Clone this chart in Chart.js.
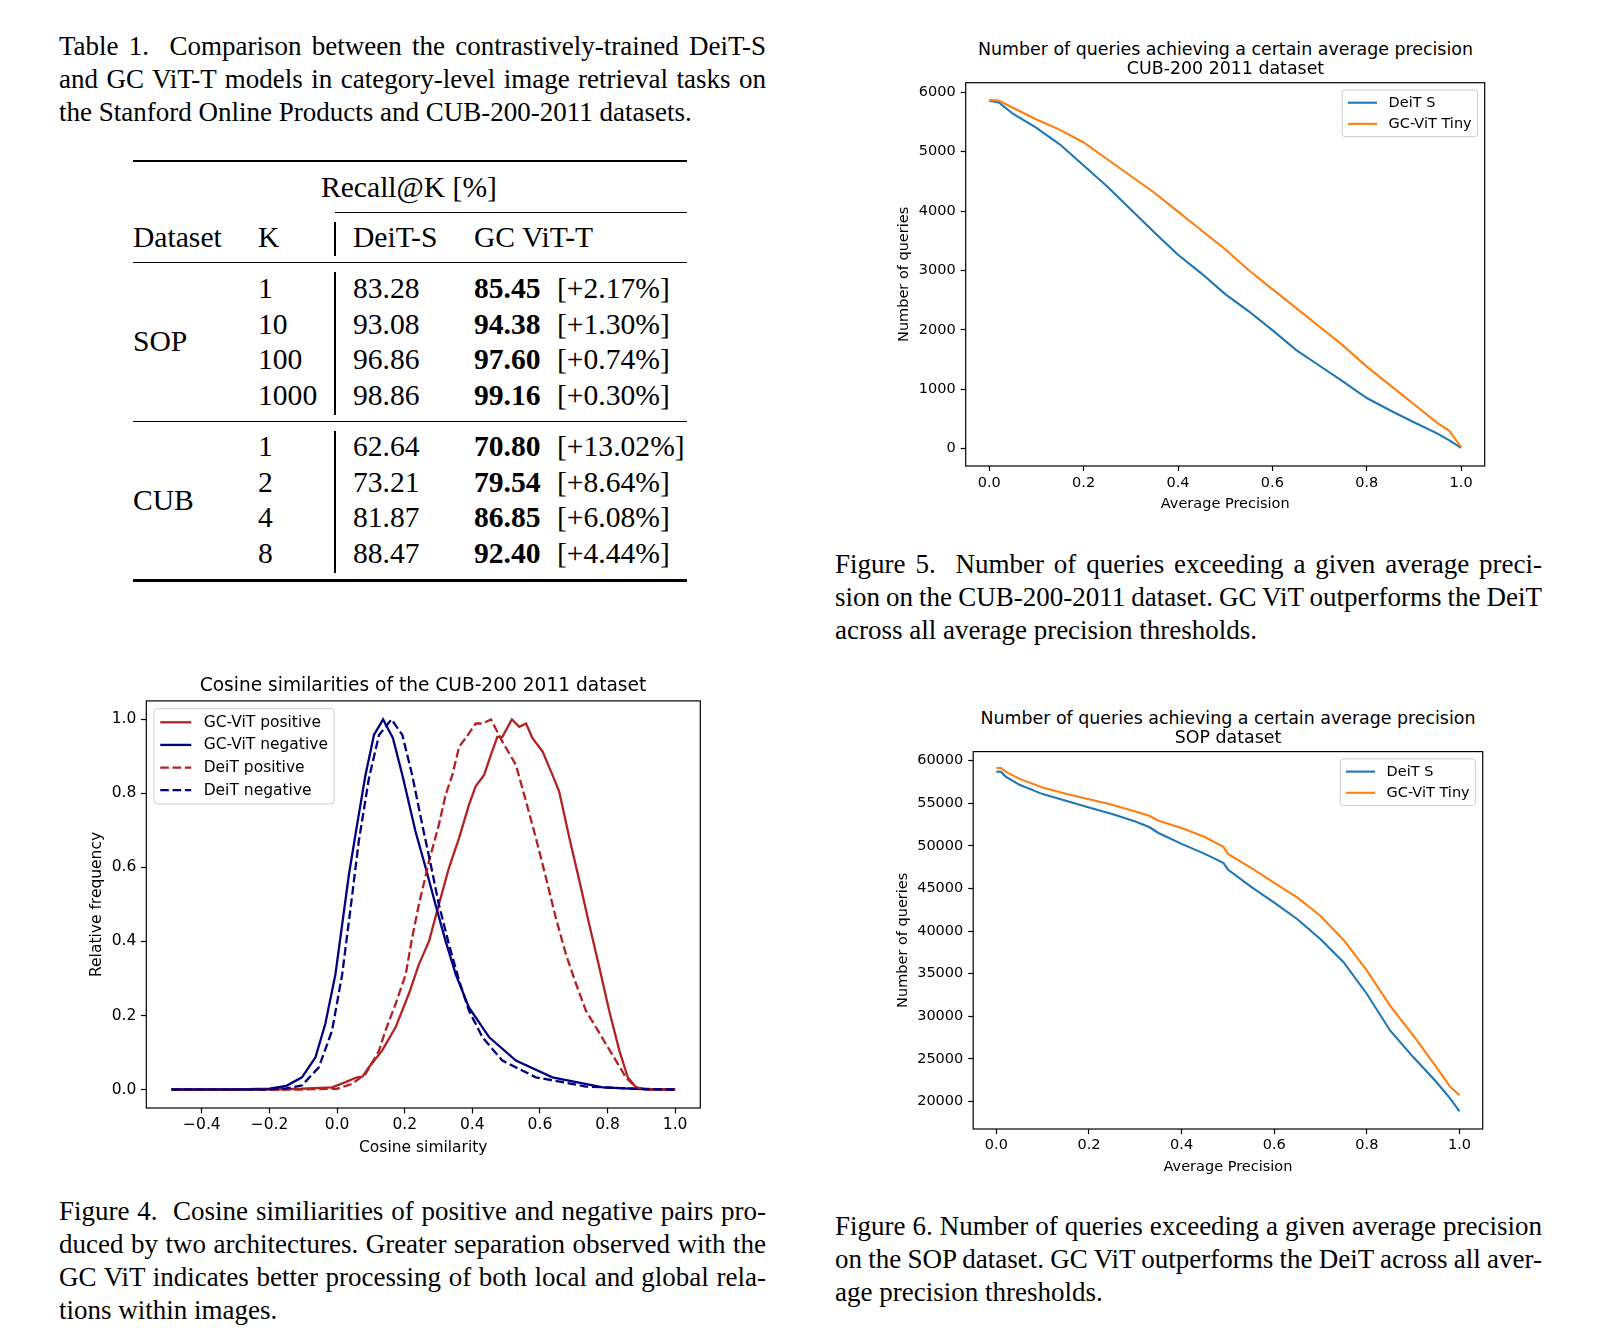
<!DOCTYPE html>
<html>
<head>
<meta charset="utf-8">
<title>DeiT-S vs GC ViT-T retrieval figures</title>
<script src="https://cdn.jsdelivr.net/npm/chart.js@4.4.1/dist/chart.umd.min.js"></script>
<style>
html, body { margin: 0; padding: 0; background: #fff; }
body { position: relative; width: 1605px; height: 1337px; overflow: hidden; color: #000;
  font-family: 'Liberation Serif', 'Times New Roman', serif; }
.t { position: absolute; white-space: nowrap; font-size: 29.6px; line-height: 36px; }
.b { font-weight: bold; }
.rule { position: absolute; background: #000; }
.cap { position: absolute; width: 707px; white-space: nowrap; font-size: 27px; line-height: 33px; }
.ttl { position: absolute; font-family: 'DejaVu Sans', sans-serif; white-space: nowrap;
  text-align: center; transform: translateX(-50%); color: #000; }
canvas { position: absolute; }
</style>
</head>
<body>
<canvas id="cosChart"></canvas>
<canvas id="cubChart"></canvas>
<canvas id="sopChart"></canvas>
<script>
'use strict';

// ---- table 1 values ----
var sopK = ['1', '10', '100', '1000'];
var sopDeit = ['83.28', '93.08', '96.86', '98.86'];
var sopGc = ['85.45', '94.38', '97.60', '99.16'];
var sopGain = ['[+2.17%]', '[+1.30%]', '[+0.74%]', '[+0.30%]'];
var cubK = ['1', '2', '4', '8'];
var cubDeit = ['62.64', '73.21', '81.87', '88.47'];
var cubGc = ['70.80', '79.54', '86.85', '92.40'];
var cubGain = ['[+13.02%]', '[+8.64%]', '[+6.08%]', '[+4.44%]'];

// ---- figure 4: cosine similarity distributions ----
var gcPosX = [-0.49, -0.2, -0.104, -0.015, 0.025, 0.059, 0.075, 0.094, 0.133, 0.173, 0.212, 0.242, 0.272, 0.301, 0.331, 0.361, 0.39, 0.41, 0.435, 0.455, 0.474, 0.489, 0.517, 0.539, 0.559, 0.578, 0.608, 0.637, 0.657, 0.687, 0.717, 0.746, 0.776, 0.805, 0.835, 0.86, 0.884, 0.914, 1.0];
var gcPosY = [0, 0, 0.002, 0.006, 0.02, 0.033, 0.035, 0.06, 0.105, 0.168, 0.258, 0.338, 0.401, 0.5, 0.599, 0.68, 0.769, 0.819, 0.85, 0.904, 0.953, 0.953, 1.0, 0.98, 0.989, 0.949, 0.913, 0.85, 0.805, 0.68, 0.563, 0.446, 0.329, 0.213, 0.105, 0.033, 0.006, 0, 0];
var gcNegX = [-0.49, -0.3, -0.2, -0.15, -0.104, -0.064, -0.035, -0.005, 0.015, 0.035, 0.059, 0.084, 0.109, 0.136, 0.165, 0.193, 0.232, 0.262, 0.291, 0.321, 0.351, 0.39, 0.45, 0.529, 0.637, 0.786, 0.9, 1.0];
var gcNegY = [0, 0, 0.002, 0.01, 0.033, 0.087, 0.177, 0.311, 0.446, 0.581, 0.715, 0.85, 0.958, 1.0, 0.95, 0.85, 0.697, 0.599, 0.5, 0.401, 0.311, 0.222, 0.141, 0.078, 0.033, 0.006, 0.001, 0];
var deitPosX = [-0.49, -0.104, 0.0, 0.044, 0.084, 0.124, 0.143, 0.173, 0.203, 0.222, 0.242, 0.272, 0.301, 0.321, 0.341, 0.361, 0.38, 0.41, 0.43, 0.455, 0.489, 0.529, 0.559, 0.588, 0.618, 0.647, 0.677, 0.707, 0.736, 0.766, 0.795, 0.825, 0.854, 0.884, 0.914, 1.0];
var deitPosY = [0, 0, 0.002, 0.015, 0.042, 0.105, 0.159, 0.231, 0.311, 0.41, 0.5, 0.617, 0.715, 0.796, 0.85, 0.926, 0.949, 0.989, 0.989, 1.0, 0.94, 0.877, 0.778, 0.68, 0.572, 0.464, 0.365, 0.285, 0.213, 0.168, 0.123, 0.078, 0.033, 0.006, 0, 0];
var deitNegX = [-0.49, -0.2, -0.15, -0.104, -0.054, -0.015, 0.015, 0.04, 0.064, 0.094, 0.124, 0.161, 0.193, 0.222, 0.252, 0.277, 0.301, 0.331, 0.361, 0.39, 0.43, 0.489, 0.588, 0.736, 0.884, 1.0];
var deitNegY = [0, 0, 0.003, 0.011, 0.06, 0.159, 0.311, 0.491, 0.67, 0.84, 0.958, 1.0, 0.958, 0.85, 0.715, 0.608, 0.5, 0.392, 0.294, 0.213, 0.141, 0.078, 0.033, 0.008, 0.002, 0];
var cosTicksX = [-0.4, -0.2, 0, 0.2, 0.4, 0.6, 0.8, 1.0];
var cosTicksY = [0, 0.2, 0.4, 0.6, 0.8, 1.0];

// ---- figure 5: CUB queries above an average precision ----
var cubApX = [0, 0.02, 0.05, 0.1, 0.15, 0.2, 0.25, 0.3, 0.35, 0.4, 0.45, 0.5, 0.55, 0.6, 0.65, 0.7, 0.75, 0.8, 0.85, 0.9, 0.95, 0.975, 1.0];
var cubDeitQueries = [5860, 5830, 5640, 5400, 5120, 4767, 4415, 4027, 3639, 3265, 2948, 2602, 2313, 1996, 1664, 1396, 1128, 853, 642, 444, 254, 140, 14];
var cubGcQueries = [5870, 5860, 5740, 5543, 5367, 5155, 4873, 4591, 4309, 3992, 3674, 3357, 3004, 2687, 2370, 2052, 1735, 1382, 1065, 748, 430, 300, 28];
var cubTicksY = [0, 1000, 2000, 3000, 4000, 5000, 6000];

// ---- figure 6: SOP queries above an average precision ----
var sopApX = [0, 0.01, 0.02, 0.05, 0.1, 0.15, 0.2, 0.25, 0.3, 0.33, 0.35, 0.4, 0.45, 0.49, 0.5, 0.55, 0.6, 0.65, 0.7, 0.75, 0.8, 0.85, 0.9, 0.95, 0.98, 1.0];
var sopDeitQueries = [58715, 58700, 58130, 57160, 56070, 55290, 54510, 53730, 52870, 52210, 51510, 50230, 49060, 48010, 47230, 45200, 43330, 41390, 39050, 36320, 32620, 28340, 25220, 22300, 20350, 18840];
var sopGcQueries = [59140, 59140, 58715, 57860, 56850, 56110, 55480, 54820, 54040, 53530, 52950, 52100, 51040, 49880, 49060, 47420, 45670, 43920, 41780, 38930, 35350, 31260, 27750, 24050, 21720, 20750];
var sopTicksY = [20000, 25000, 30000, 35000, 40000, 45000, 50000, 55000, 60000];

var apTicksX = [0, 0.2, 0.4, 0.6, 0.8, 1.0];

var FONT = "'DejaVu Sans', sans-serif";

// ---------- text helpers ----------
function put(cls, text, x, y) {
  var d = document.createElement('div');
  d.className = cls;
  d.textContent = text;
  d.style.left = x + 'px';
  d.style.top = y + 'px';
  document.body.appendChild(d);
  return d;
}

function rule(x, y, w, h) {
  var d = document.createElement('div');
  d.className = 'rule';
  d.style.left = x + 'px';
  d.style.top = (y - h / 2) + 'px';
  d.style.width = w + 'px';
  d.style.height = h + 'px';
  document.body.appendChild(d);
}

// caption line; justified lines get word spacing so they fill the column
var CAP_W = 707;
function capLine(text, x, cy, justify) {
  var d = document.createElement('div');
  d.className = 'cap';
  d.style.left = x + 'px';
  d.style.top = (cy - 17.5) + 'px';
  var s = document.createElement('span');
  s.textContent = text;
  d.appendChild(s);
  document.body.appendChild(d);
  if (justify) {
    var n = (text.match(/[ \u00a0]/g) || []).length;
    var w = s.getBoundingClientRect().width;
    d.style.wordSpacing = ((CAP_W - w) / n) + 'px';
  }
}

function caption(lines, x, cy0) {
  lines.forEach(function (t, i) {
    capLine(t, x, cy0 + i * 33.1, i < lines.length - 1);
  });
}

function chartTitle(lines, cx, cys, size) {
  lines.forEach(function (t, i) {
    var d = put('ttl', t, cx, cys[i] - 9);
    d.style.fontSize = size + 'px';
    d.style.lineHeight = '18px';
  });
}

// ---------- table 1 ----------
caption(['Table 1.\u00a0 Comparison between the contrastively-trained DeiT-S',
  'and GC ViT-T models in category-level image retrieval tasks on',
  'the Stanford Online Products and CUB-200-2011 datasets.'], 59, 47.5);

var colX = { name: 133, k: 258, deit: 353, gc: 474, gain: 557 };
var vLineX = 335;
rule(133, 161, 554, 2.4);
put('t', 'Recall@K [%]', 321, 187 - 18.2);
rule(vLineX, 212, 687 - vLineX, 1);
put('t', 'Dataset', colX.name, 237 - 18.2);
put('t', 'K', colX.k, 237 - 18.2);
put('t', 'DeiT-S', colX.deit, 237 - 18.2);
put('t', 'GC ViT-T', colX.gc, 237 - 18.2);
rule(133, 262.5, 554, 1.5);

function block(name, nameY, ks, deit, gc, gain, rowY) {
  put('t', name, colX.name, nameY - 18.2);
  ks.forEach(function (k, i) {
    var y = rowY[i] - 18.2;
    put('t', k, colX.k, y);
    put('t', deit[i], colX.deit, y);
    put('t b', gc[i], colX.gc, y);
    put('t', gain[i], colX.gain, y);
  });
}
block('SOP', 341, sopK, sopDeit, sopGc, sopGain, [288.5, 324, 359.5, 395]);
rule(133, 421.7, 554, 1.5);
block('CUB', 500, cubK, cubDeit, cubGc, cubGain, [446.6, 482, 517.5, 553]);
rule(133, 580.5, 554, 2.4);

// vertical separator
[[222, 256], [272, 415], [431, 573]].forEach(function (s) {
  var d = document.createElement('div');
  d.className = 'rule';
  d.style.left = (vLineX - 0.6) + 'px';
  d.style.top = s[0] + 'px';
  d.style.width = '1.2px';
  d.style.height = (s[1] - s[0]) + 'px';
  document.body.appendChild(d);
});

// ---------- figure captions ----------
caption(['Figure 5.\u00a0 Number of queries exceeding a given average preci-',
  'sion on the CUB-200-2011 dataset. GC ViT outperforms the DeiT',
  'across all average precision thresholds.'], 835, 565.5);
caption(['Figure 4.\u00a0 Cosine similiarities of positive and negative pairs pro-',
  'duced by two architectures. Greater separation observed with the',
  'GC ViT indicates better processing of both local and global rela-',
  'tions within images.'], 59, 1212);
caption(['Figure 6. Number of queries exceeding a given average precision',
  'on the SOP dataset. GC ViT outperforms the DeiT across all aver-',
  'age precision thresholds.'], 835, 1227);

// ---------- chart titles ----------
chartTitle(['Number of queries achieving a certain average precision', 'CUB-200 2011 dataset'], 1225.5, [49, 67.5], 17.4);
chartTitle(['Number of queries achieving a certain average precision', 'SOP dataset'], 1228, [718.3, 736.8], 17.4);
chartTitle(['Cosine similarities of the CUB-200 2011 dataset'], 423, [684.5], 18.6);

// ---------- chart plugins ----------
var framePlugin = {
  id: 'frame',
  afterDatasetsDraw: function (chart) {
    var ctx = chart.ctx, a = chart.chartArea;
    ctx.save();
    ctx.strokeStyle = '#000';
    ctx.lineWidth = 1.2;
    ctx.strokeRect(a.left, a.top, a.right - a.left, a.bottom - a.top);
    ctx.restore();
  }
};

// matplotlib-like legend drawn inside the axes
var legendPlugin = {
  id: 'mplLegend',
  afterDraw: function (chart, args, opts) {
    var ctx = chart.ctx, a = chart.chartArea, f = opts.fontSize;
    var items = chart.data.datasets;
    var bp = 0.4 * f, hl = 2 * f, htp = 0.8 * f, ls = 0.5 * f, rowH = 0.96 * f, pad = 0.5 * f;
    ctx.save();
    ctx.font = f + 'px ' + FONT;
    var tw = 0;
    items.forEach(function (d) { tw = Math.max(tw, ctx.measureText(d.label).width); });
    var w = 2 * bp + hl + htp + tw;
    var h = 2 * bp + items.length * rowH + (items.length - 1) * ls;
    var x = opts.corner === 'left' ? a.left + pad : a.right - pad - w;
    var y = a.top + pad;
    ctx.beginPath();
    ctx.roundRect(x, y, w, h, 0.2 * f);
    ctx.fillStyle = 'rgba(255,255,255,0.8)';
    ctx.fill();
    ctx.strokeStyle = '#cccccc';
    ctx.lineWidth = 1;
    ctx.stroke();
    items.forEach(function (d, i) {
      var cy = y + bp + rowH / 2 + i * (rowH + ls);
      ctx.beginPath();
      ctx.setLineDash(d.borderDash || []);
      ctx.strokeStyle = d.borderColor;
      ctx.lineWidth = d.borderWidth;
      ctx.moveTo(x + bp, cy);
      ctx.lineTo(x + bp + hl, cy);
      ctx.stroke();
      ctx.setLineDash([]);
      ctx.fillStyle = '#000';
      ctx.textBaseline = 'middle';
      ctx.textAlign = 'left';
      ctx.fillText(d.label, x + bp + hl + htp, cy + 0.5);
    });
    ctx.restore();
  }
};

function series(label, xs, ys, color, width, dash, order) {
  return {
    label: label,
    data: xs.map(function (x, i) { return { x: x, y: ys[i] }; }),
    borderColor: color, backgroundColor: color, borderWidth: width,
    borderDash: dash || [], showLine: true, pointRadius: 0, pointHoverRadius: 0,
    fill: false, tension: 0, order: order
  };
}

function makePlot(id, g, datasets) {
  var fs = g.font, lh = fs * 1.2;
  var cx = g.yTitleX - lh / 2;
  var top = g.T - 12, right = g.R + 12;
  var bottom = g.xTitleY + lh / 2;
  var W = Math.round(right - cx), H = Math.round(bottom - top);
  var cv = document.getElementById(id);
  cv.style.left = cx + 'px';
  cv.style.top = top + 'px';
  cv.style.width = W + 'px';
  cv.style.height = H + 'px';
  cv.width = W;
  cv.height = H;
  var font = { family: FONT, size: fs, lineHeight: 1.2 };
  var grid = { display: true, drawOnChartArea: false, drawTicks: true, tickLength: g.tick,
    tickColor: '#000', tickWidth: 1.2 };
  return new Chart(cv, {
    type: 'scatter',
    data: { datasets: datasets },
    options: {
      responsive: false,
      animation: false,
      events: [],
      layout: { padding: { top: g.T - top, right: W - (g.R - cx), left: 0, bottom: 0 } },
      plugins: {
        legend: { display: false },
        tooltip: { enabled: false },
        mplLegend: { corner: g.legend, fontSize: fs }
      },
      scales: {
        x: {
          type: 'linear', position: 'bottom', bounds: 'data', min: g.xMin, max: g.xMax,
          afterFit: function (s) { s.height = H - (g.B - top); },
          afterBuildTicks: function (s) { s.ticks = g.xTicks.map(function (v) { return { value: v }; }); },
          ticks: { font: font, color: '#000', padding: g.xPad, maxRotation: 0, autoSkip: false, callback: g.xFmt },
          grid: grid, border: { display: false },
          title: { display: true, text: g.xTitle, font: font, color: '#000', padding: 0 }
        },
        y: {
          type: 'linear', position: 'left', bounds: 'data', min: g.yMin, max: g.yMax,
          afterFit: function (s) { s.width = g.L - cx; },
          afterBuildTicks: function (s) { s.ticks = g.yTicks.map(function (v) { return { value: v }; }); },
          ticks: { font: font, color: '#000', padding: g.yPad, autoSkip: false, callback: g.yFmt },
          grid: grid, border: { display: false },
          title: { display: true, text: g.yTitle, font: font, color: '#000', padding: 0 }
        }
      }
    },
    plugins: [framePlugin, legendPlugin]
  });
}

function fmt1(v) { return (v < 0 ? '\u2212' : '') + Math.abs(v).toFixed(1); }
function fmtInt(v) { return String(v); }

var RED = '#b22222', NAVY = '#000080', BLUE = '#1f77b4', ORANGE = '#ff7f0e';
var dash = [8.6, 3.7];

makePlot('cosChart', {
  L: 146, T: 699, R: 700, B: 1108, font: 15.5, tick: 5.4, xPad: 2.3, yPad: 4.6,
  yTitleX: 97, xTitleY: 1147.5, xMin: -0.5645, xMax: 1.0745, yMin: -0.05, yMax: 1.05,
  xTicks: cosTicksX, yTicks: cosTicksY, xFmt: fmt1, yFmt: fmt1,
  xTitle: 'Cosine similarity', yTitle: 'Relative frequency', legend: 'left'
}, [
  series('GC-ViT positive', gcPosX, gcPosY, RED, 2.3, null, 4),
  series('GC-ViT negative', gcNegX, gcNegY, NAVY, 2.3, null, 3),
  series('DeiT positive', deitPosX, deitPosY, RED, 2.3, dash, 2),
  series('DeiT negative', deitNegX, deitNegY, NAVY, 2.3, dash, 1)
]);

makePlot('cubChart', {
  L: 966, T: 81, R: 1485, B: 466, font: 14.5, tick: 5, xPad: 3.3, yPad: 5,
  yTitleX: 905, xTitleY: 504, xMin: -0.05, xMax: 1.05, yMin: -292, yMax: 6162,
  xTicks: apTicksX, yTicks: cubTicksY, xFmt: fmt1, yFmt: fmtInt,
  xTitle: 'Average Precision', yTitle: 'Number of queries', legend: 'right'
}, [
  series('DeiT S', cubApX, cubDeitQueries, BLUE, 2.1, null, 2),
  series('GC-ViT Tiny', cubApX, cubGcQueries, ORANGE, 2.1, null, 1)
]);

makePlot('sopChart', {
  L: 973.5, T: 750, R: 1483, B: 1129, font: 14.5, tick: 5, xPad: 2.5, yPad: 4.9,
  yTitleX: 904, xTitleY: 1167, xMin: -0.05, xMax: 1.05, yMin: 16780, yMax: 61060,
  xTicks: apTicksX, yTicks: sopTicksY, xFmt: fmt1, yFmt: fmtInt,
  xTitle: 'Average Precision', yTitle: 'Number of queries', legend: 'right'
}, [
  series('DeiT S', sopApX, sopDeitQueries, BLUE, 2.1, null, 2),
  series('GC-ViT Tiny', sopApX, sopGcQueries, ORANGE, 2.1, null, 1)
]);
</script>
</body>
</html>
